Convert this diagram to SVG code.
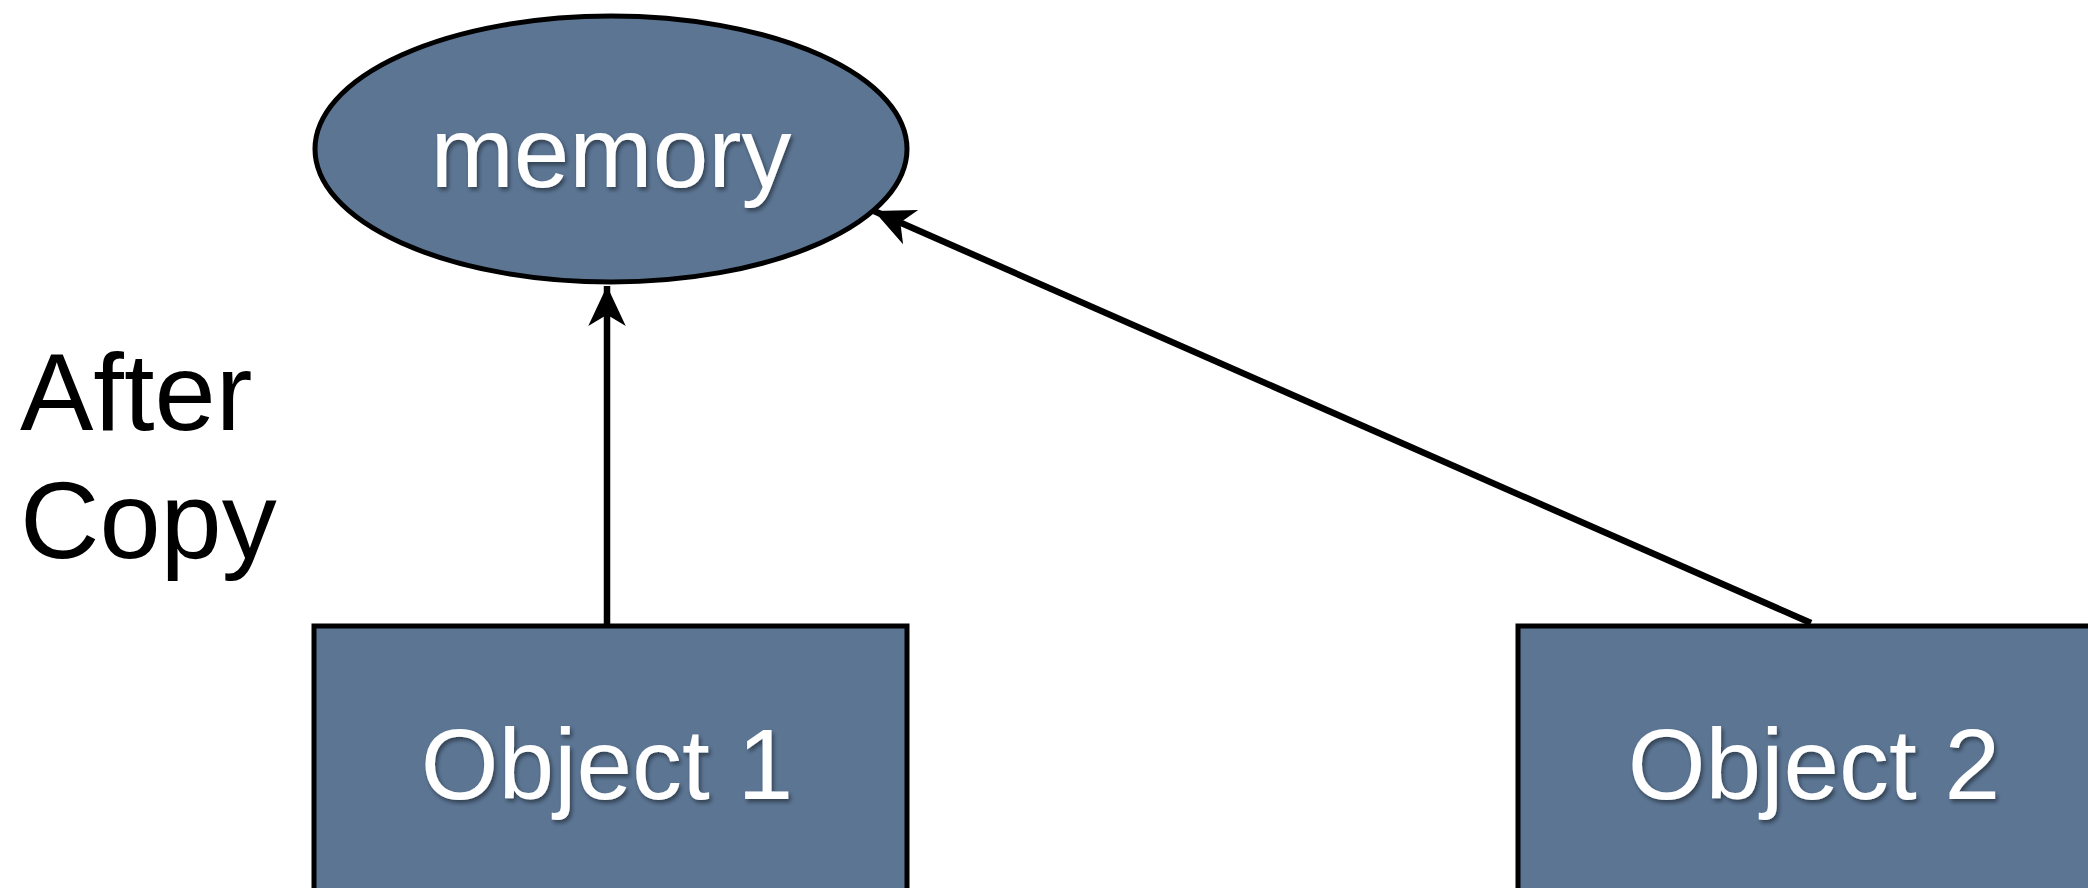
<svg xmlns="http://www.w3.org/2000/svg" width="2088" height="888" viewBox="0 0 2088 888">
<defs>
<style>
.node{fill:#5b7593;stroke:#000;stroke-width:5}
.lbl{font-family:"Liberation Sans",Arial,sans-serif;font-size:100px;fill:#fff;text-anchor:middle;filter:url(#sh)}
.side{font-family:"Liberation Sans",Arial,sans-serif;font-size:110px;fill:#000}
.edge{stroke:#000;stroke-width:6.5;fill:none}
</style>
<filter id="sh" x="-10%" y="-20%" width="120%" height="150%">
<feDropShadow dx="2" dy="3" stdDeviation="2" flood-color="#000" flood-opacity="0.45"/>
</filter>
<marker id="ah" markerUnits="userSpaceOnUse" markerWidth="50" markerHeight="50" viewBox="-36 -18 40 36" refX="0" refY="0" orient="auto">
<path d="M0,0 L-32,-15 L-23,0 L-32,15 Z" fill="#000"/>
</marker>
</defs>
<rect width="2088" height="888" fill="#fff"/>
<g id="connectors">
<line class="edge" x1="607" y1="624" x2="607" y2="286" marker-end="url(#ah)"/>
<line class="edge" x1="1811" y1="623" x2="874" y2="211" marker-end="url(#ah)"/>
</g>
<g id="memory">
<ellipse class="node" cx="611" cy="149" rx="296" ry="133"/>
<text class="lbl" x="611" y="187">memory</text>
</g>
<g id="object1">
<rect class="node" x="314" y="626" width="593" height="280"/>
<text class="lbl" x="607" y="799">Object 1</text>
</g>
<g id="object2">
<rect class="node" x="1518" y="626" width="593" height="280"/>
<text class="lbl" x="1814" y="799">Object 2</text>
</g>
<g id="caption">
<text class="side" x="20" y="430">After</text>
<text class="side" x="20" y="558">Copy</text>
</g>
</svg>
